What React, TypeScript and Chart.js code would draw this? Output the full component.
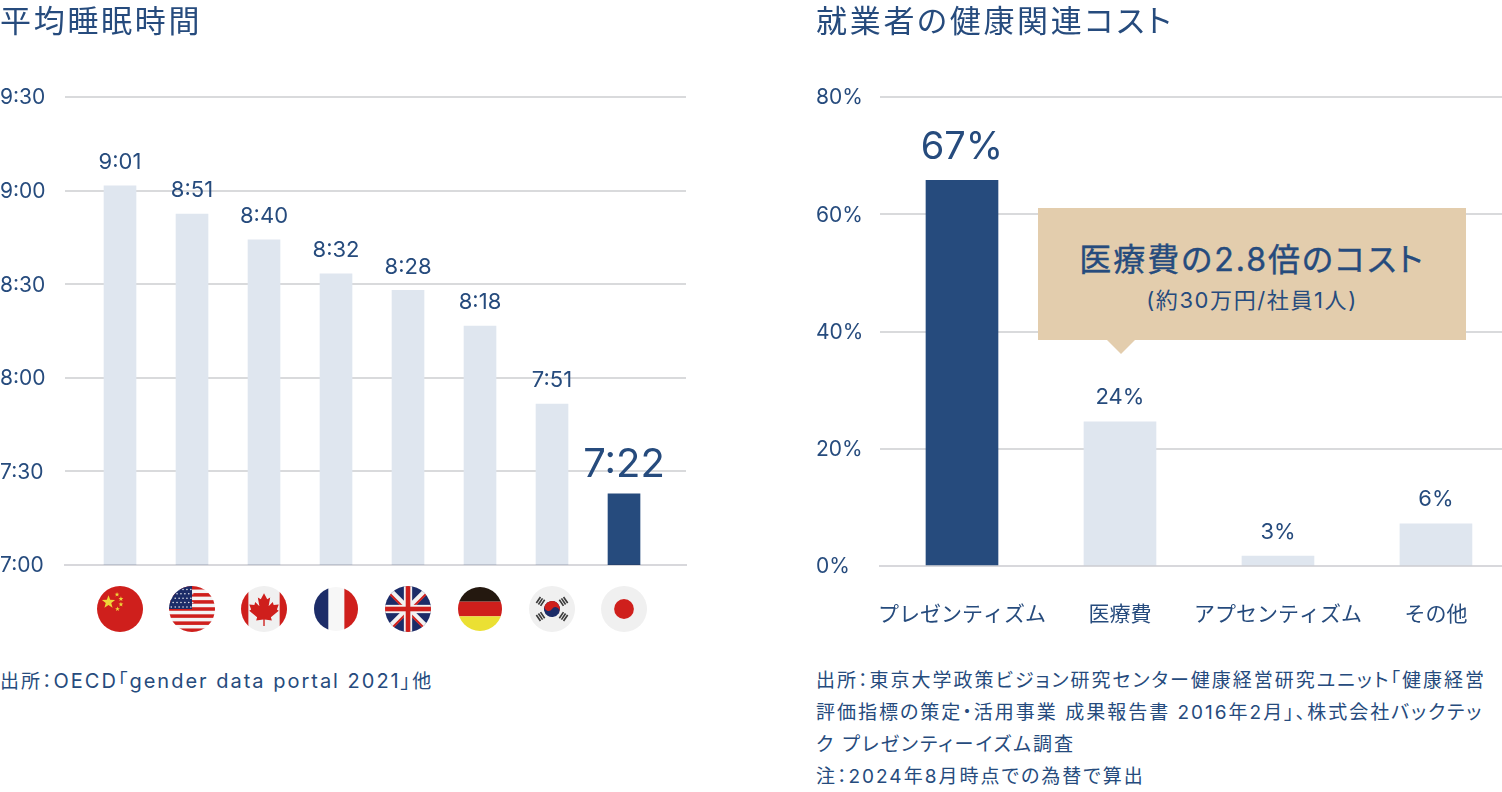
import React, { useEffect, useRef } from "react";
import { Chart, registerables } from "chart.js";

Chart.register(...registerables);

const NAVY = "#264b7d";
const PALE = "#dfe6ef";
const GRID = "#d9dadc";
const BASELINE = "rgba(40,40,60,0.18)";
const FF = 'Inter, "Noto Sans CJK JP", sans-serif';

const sleepCountries = ["China", "USA", "Canada", "France", "UK", "Germany", "Korea", "Japan"];
const sleepBars = [541.5, 532.5, 524.2, 513.3, 508, 496.6, 471.6, 442.8];
const sleepLabels = ["9:01", "8:51", "8:40", "8:32", "8:28", "8:18", "7:51", "7:22"];
const sleepTicks: Record<number, string> = { 420: "7:00", 450: "7:30", 480: "8:00", 510: "8:30", 540: "9:00", 570: "9:30" };

const costCategories = ["プレゼンティズム", "医療費", "アプセンティズム", "その他"];
const costBars = [65.8, 24.6, 1.7, 7.2];
const costLabels = ["67%", "24%", "3%", "6%"];

type Painter = (c: CanvasRenderingContext2D, r: number) => void;

function star(c: CanvasRenderingContext2D, x: number, y: number, r: number) {
  c.beginPath();
  for (let i = 0; i < 10; i++) {
    const a = -Math.PI / 2 + (i * Math.PI) / 5;
    const q = i % 2 ? r * 0.42 : r;
    c.lineTo(x + q * Math.cos(a), y + q * Math.sin(a));
  }
  c.closePath();
  c.fill();
}
const rect = (c: CanvasRenderingContext2D, col: string, x: number, y: number, w: number, h: number) => {
  c.fillStyle = col;
  c.fillRect(x, y, w, h);
};
const RED = "#cf1f1c";
const BLUE = "#1c2c68";
const flags: Record<string, Painter> = {
  China(c, r) {
    rect(c, RED, -r, -r, 2 * r, 2 * r);
    c.fillStyle = "#eed63a";
    star(c, -r * 0.5, -r * 0.3, r * 0.3);
    star(c, -r * 0.13, -r * 0.63, r * 0.11);
    star(c, 0.04 * r, -r * 0.44, r * 0.11);
    star(c, 0.04 * r, -r * 0.2, r * 0.11);
    star(c, -r * 0.11, r * 0, r * 0.11);
  },
  USA(c, r) {
    rect(c, "#f4f4f4", -r, -r, 2 * r, 2 * r);
    for (let i = 0; i < 7; i++) rect(c, RED, -r, -r + (i * 2 * r * 2) / 13, 2 * r, (2 * r) / 13);
    rect(c, BLUE, -r, -r, r, r * 1);
    c.fillStyle = "#e8e8f0";
    for (let i = 0; i < 5; i++)
      for (let j = 0; j < 6; j++) {
        c.beginPath();
        c.arc(-r * 0.9 + j * r * 0.17 + (i % 2) * r * 0.08, -r * 0.85 + i * r * 0.19, 0.8, 0, 7);
        c.fill();
      }
  },
  Canada(c, r) {
    rect(c, "#f0f0f0", -r, -r, 2 * r, 2 * r);
    rect(c, RED, -r, -r, r * 0.32, 2 * r);
    rect(c, RED, r * 0.68, -r, r * 0.32, 2 * r);
    c.fillStyle = RED;
    const p = [[0,-.68],[.14,-.42],[.27,-.5],[.2,-.12],[.38,-.3],[.42,-.17],[.64,-.2],[.56,.02],[.64,.08],[.3,.36],[.34,.5],[.03,.46],[.03,.74],[-.03,.74],[-.03,.46],[-.34,.5],[-.3,.36],[-.64,.08],[-.56,.02],[-.64,-.2],[-.42,-.17],[-.38,-.3],[-.2,-.12],[-.27,-.5],[-.14,-.42]];
    c.beginPath();
    p.forEach(([a, b]) => c.lineTo(a * r, b * r));
    c.closePath();
    c.fill();
  },
  France(c, r) {
    rect(c, "#f7f7f7", -r, -r, 2 * r, 2 * r);
    rect(c, BLUE, -r, -r, r * 0.65, 2 * r);
    rect(c, RED, r * 0.38, -r, r * 0.62, 2 * r);
  },
  UK(c, r) {
    rect(c, BLUE, -r, -r, 2 * r, 2 * r);
    const line = (col: string, w: number, a: number[]) => {
      c.strokeStyle = col;
      c.lineWidth = w;
      c.beginPath();
      c.moveTo(a[0] * r, a[1] * r);
      c.lineTo(a[2] * r, a[3] * r);
      c.stroke();
    };
    line("#f2f2f2", r * 0.26, [-1, -1, 1, 1]);
    line("#f2f2f2", r * 0.26, [-1, 1, 1, -1]);
    line(RED, r * 0.09, [-0.85, -0.72, 0.85, 0.98]);
    line(RED, r * 0.09, [-0.85, 0.98, 0.85, -0.72]);
    rect(c, "#f2f2f2", -r, -r * 0.18, 2 * r, r * 0.36);
    rect(c, "#f2f2f2", -r * 0.18, -r, r * 0.36, 2 * r);
    rect(c, RED, -r, -r * 0.1, 2 * r, r * 0.2);
    rect(c, RED, -r * 0.1, -r, r * 0.2, 2 * r);
  },
  Germany(c, r) {
    rect(c, "#24180f", -r, -r, 2 * r, (2 * r) / 3);
    rect(c, RED, -r, -r / 3, 2 * r, (2 * r) / 3);
    rect(c, "#ebe033", -r, r / 3, 2 * r, (2 * r) / 3);
  },
  Korea(c, r) {
    rect(c, "#f0f0f0", -r, -r, 2 * r, 2 * r);
    c.save();
    c.rotate(Math.PI / 5.5);
    const t = r * 0.35;
    c.fillStyle = BLUE;
    c.beginPath(); c.arc(0, 0, t, 0, 7); c.fill();
    c.fillStyle = RED;
    c.beginPath(); c.arc(0, 0, t, Math.PI, 0); c.arc(t / 2, 0, t / 2, 0, Math.PI, true); c.arc(-t / 2, 0, t / 2, 0, Math.PI); c.fill();
    c.restore();
    c.fillStyle = "#3a3a3a";
    [[-1, -1], [1, -1], [-1, 1], [1, 1]].forEach(([sx, sy]) => {
      c.save();
      c.translate(sx * r * 0.5, sy * r * 0.33);
      c.rotate((-sx * sy * 56 * Math.PI) / 180);
      for (let i = -1; i <= 1; i++) c.fillRect(-r * 0.16, i * r * 0.11 - r * 0.035, r * 0.32, r * 0.07);
      c.restore();
    });
  },
  Japan(c, r) {
    rect(c, "#f0f0f0", -r, -r, 2 * r, 2 * r);
    c.fillStyle = RED;
    c.beginPath(); c.arc(0, 0, r * 0.43, 0, 7); c.fill();
  },
};

const flagsPlugin = {
  id: "flags",
  afterDraw(chart: any) {
    const c = chart.ctx;
    const x = chart.scales.x;
    const cy = chart.chartArea.bottom + 44;
    sleepCountries.forEach((name, i) => {
      const r = name === "France" || name === "Germany" ? 22 : 23;
      c.save();
      c.translate(x.getPixelForValue(i), cy);
      c.beginPath();
      c.arc(0, 0, r, 0, Math.PI * 2);
      c.clip();
      flags[name](c, r);
      c.restore();
    });
  },
};

function labelsPlugin(texts: string[], big: number, bigSize: number, size: number, bigGap: number, gap: number) {
  return {
    id: "valueLabels",
    afterDatasetsDraw(chart: any) {
      const c = chart.ctx;
      const pts = chart.getDatasetMeta(0).data;
      c.save();
      c.fillStyle = NAVY;
      c.textAlign = "center";
      c.textBaseline = "middle";
      texts.forEach((t, i) => {
        const b = i === big;
        c.font = `400 ${b ? bigSize : size}px ${FF}`;
        c.fillText(t, pts[i].x, pts[i].y - (b ? bigGap : gap));
      });
      c.restore();
    },
  };
}

function useBarChart(
  ref: React.RefObject<HTMLCanvasElement | null>,
  build: () => any
) {
  useEffect(() => {
    const chart = new Chart(ref.current as HTMLCanvasElement, build());
    return () => chart.destroy();
  }, []);
}

const tickFont = { family: FF, size: 21, weight: 400 as any };
const gridColor = (ctx: any) => (ctx.index === 0 ? "rgba(0,0,0,0)" : GRID);
const baseline = { display: true, color: BASELINE, width: 2, z: 1 };

export default function App() {
  const left = useRef<HTMLCanvasElement>(null);
  const right = useRef<HTMLCanvasElement>(null);

  useEffect(() => {
    document.body.style.margin = "0";
    document.documentElement.lang = "ja";
  }, []);

  useBarChart(left, () => ({
    type: "bar",
    data: {
      datasets: [
        {
          label: "平均睡眠時間",
          data: sleepBars.map((y, x) => ({ x, y })),
          backgroundColor: sleepCountries.map((n) => (n === "Japan" ? NAVY : PALE)),
          barThickness: 32,
        },
      ],
    },
    plugins: [labelsPlugin(sleepLabels, 7, 40, 22, 29, 23.5), flagsPlugin],
    options: {
      responsive: false,
      animation: false,
      layout: { padding: { top: 97, right: 14, left: 0, bottom: 0 } },
      plugins: { legend: { display: false }, tooltip: { enabled: false } },
      scales: {
        x: {
          type: "linear",
          offset: false,
          min: -0.764,
          max: 7.861,
          grid: { display: false },
          border: baseline,
          ticks: { display: false },
          afterBuildTicks(s: any) { s.ticks = sleepCountries.map((_, i) => ({ value: i })); },
          afterFit(s: any) { s.height = 95; },
        },
        y: {
          min: 420,
          max: 570,
          grid: { color: gridColor, lineWidth: 2, drawTicks: false },
          border: { display: false },
          ticks: {
            stepSize: 30,
            color: NAVY,
            font: tickFont,
            crossAlign: "far",
            padding: 0,
            labelOffset: 1,
            callback: (v: number) => sleepTicks[v] ?? "",
          },
          afterFit(s: any) { s.width = 65; },
        },
      },
    },
  }));

  useBarChart(right, () => ({
    type: "bar",
    data: {
      datasets: [
        {
          label: "就業者の健康関連コスト",
          data: costBars.map((y, x) => ({ x, y })),
          backgroundColor: costCategories.map((_, i) => (i === 0 ? NAVY : PALE)),
          barThickness: 72,
        },
      ],
    },
    plugins: [labelsPlugin(costLabels, 0, 38, 22, 33, 24)],
    options: {
      responsive: false,
      animation: false,
      layout: { padding: { top: 97, right: 0, left: 0, bottom: 0 } },
      plugins: { legend: { display: false }, tooltip: { enabled: false } },
      scales: {
        x: {
          type: "linear",
          offset: false,
          min: -0.519,
          max: 3.418,
          grid: { display: false },
          border: baseline,
          afterBuildTicks(s: any) { s.ticks = costCategories.map((_, i) => ({ value: i })); },
          ticks: {
            color: NAVY,
            font: tickFont,
            padding: 28,
            maxRotation: 0,
            autoSkip: false,
            callback: (v: number) => costCategories[v] ?? "",
          },
          afterFit(s: any) { s.height = 94; },
        },
        y: {
          min: 0,
          max: 80,
          grid: { color: gridColor, lineWidth: 2, drawTicks: false },
          border: { display: false },
          ticks: {
            stepSize: 20,
            color: NAVY,
            font: tickFont,
            crossAlign: "far",
            padding: 0,
            labelOffset: 1,
            callback: (v: number) => `${v}%`,
          },
          afterFit(s: any) { s.width = 64; },
        },
      },
    },
  }));

  const abs = (x: number, y: number, extra: React.CSSProperties = {}): React.CSSProperties => ({
    position: "absolute",
    left: x,
    top: y,
    margin: 0,
    ...extra,
  });
  const base: React.CSSProperties = {
    fontFamily: FF,
    color: NAVY,
    fontFeatureSettings: '"palt"',
    whiteSpace: "nowrap",
  };
  const title = { ...base, fontSize: 31, lineHeight: "44px", letterSpacing: 2.7 };
  const note = { ...base, fontSize: 19, lineHeight: "32px", letterSpacing: 2 };

  return (
    <div style={{ position: "relative", width: 1502, height: 792, overflow: "hidden", background: "#fff" }}>
      <canvas ref={left} width={700} height={660} style={abs(0, 0)} />
      <canvas ref={right} width={686} height={660} style={abs(816, 0)} />
      <h2 style={abs(0, -1, { ...title, fontWeight: 400 })}>平均睡眠時間</h2>
      <h2 style={abs(816, -1, { ...title, fontWeight: 400 })}>就業者の健康関連コスト</h2>
      <p style={abs(0, 665, note)}>
        出所：<span style={{ fontSize: 20, letterSpacing: 2 }}>OECD</span>「<span style={{ fontSize: 20, letterSpacing: 2 }}>gender data portal 2021</span>」他
      </p>
      <p style={abs(816, 665, note)}>
        出所：東京大学政策ビジョン研究センター健康経営研究ユニット「健康経営
        <br />
        評価指標の策定・活用事業 成果報告書 2016年2月」、株式会社バックテッ
        <br />
        ク プレゼンティーイズム調査
        <br />
        注：2024年8月時点での為替で算出
      </p>
      <div style={abs(1038, 208, { width: 428, height: 132, background: "#e3cdad", textAlign: "center", ...base })}>
        <div style={{ fontSize: 32, lineHeight: "44px", marginTop: 30, letterSpacing: 2, fontWeight: 400, WebkitTextStroke: "0.4px #264b7d" }}>医療費の2.8倍のコスト</div>
        <div style={{ fontSize: 22, lineHeight: "30px", marginTop: 3, letterSpacing: 1.6 }}>(約30万円/社員1人)</div>
      </div>
      <div style={abs(1107, 340, { width: 0, height: 0, borderLeft: "14px solid transparent", borderRight: "14px solid transparent", borderTop: "14px solid #e3cdad" })} />
    </div>
  );
}
